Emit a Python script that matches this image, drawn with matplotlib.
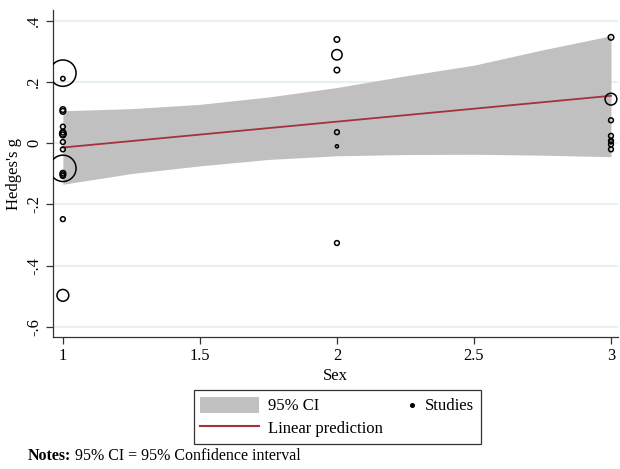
import matplotlib

matplotlib.use("Agg")
import matplotlib.pyplot as plt
from matplotlib.lines import Line2D
from matplotlib.patches import Patch
from matplotlib.text import Annotation
from matplotlib.legend_handler import HandlerBase

plt.rcParams["font.family"] = ["Liberation Serif", "DejaVu Serif"]

# studies: sex group, Hedges's g, relative weight
sex = [1] * 16 + [2] * 6 + [3] * 8
hedges_g = [
    0.229, 0.211, 0.110, 0.104, 0.054, 0.036, 0.031, 0.027,
    0.004, -0.020, -0.082, -0.098, -0.103, -0.107, -0.248, -0.497,
    0.339, 0.289, 0.239, 0.036, -0.010, -0.326,
    0.346, 0.144, 0.075, 0.024, 0.008, -0.004, -0.020, 0.005,
]
weight = [
    18.0, 0.5, 0.8, 0.8, 0.6, 0.8, 1.1, 0.8,
    0.6, 0.6, 18.0, 0.8, 0.8, 0.6, 0.6, 3.6,
    0.8, 2.8, 0.8, 0.6, 0.25, 0.6,
    0.8, 3.6, 0.6, 0.6, 0.6, 0.6, 0.6, 0.5,
]

# linear prediction and 95% CI band
fit_x = [1, 3]
fit_y = [-0.014, 0.155]
ci_x = [1.0, 1.25, 1.5, 1.75, 2.0, 2.25, 2.5, 2.75, 3.0]
ci_upper = [0.106, 0.113, 0.127, 0.151, 0.182, 0.220, 0.255, 0.305, 0.351]
ci_lower = [-0.134, -0.099, -0.074, -0.053, -0.041, -0.037, -0.036, -0.039, -0.044]

BAND = "#c0c0c0"
LINE = "#a3323a"


class DotAtRight(HandlerBase):
    # Stata draws the studies key as a small dot right before the label
    def create_artists(self, legend, orig_handle, xdescent, ydescent,
                       width, height, fontsize, trans):
        dot = Line2D([width - xdescent - 3], [height / 2 - ydescent],
                     marker="o", color="black", lw=0, markersize=2.6)
        dot.set_transform(trans)
        return [dot]


fig = plt.figure(figsize=(6.2, 4.69), dpi=100)
ax = fig.add_axes([0.0855, 0.2815, 0.911, 0.697])

yticks = [-0.6, -0.4, -0.2, 0, 0.2, 0.4]
ytick_labels = ["-.6", "-.4", "-.2", "0", ".2", ".4"]
xticks = [1, 1.5, 2, 2.5, 3]
xtick_labels = ["1", "1.5", "2", "2.5", "3"]

for yt in yticks:
    ax.axhline(yt, color="#e9f0f3", lw=1.6, zorder=0)

ax.fill_between(ci_x, ci_lower, ci_upper, color=BAND, lw=0, zorder=1)
ax.plot(fit_x, fit_y, color=LINE, lw=1.3, zorder=2)
ax.scatter(sex, hedges_g, s=[w * 20 for w in weight], facecolors="none",
           edgecolors="black", linewidths=1.1, zorder=3)

ax.set_xlim(0.964, 3.025)
ax.set_ylim(-0.633, 0.435)
ax.set_xticks(xticks)
ax.set_xticklabels(xtick_labels)
ax.set_yticks(yticks)
ax.set_yticklabels(ytick_labels, rotation=90, va="center")
ax.tick_params(axis="both", labelsize=11.8, length=5, width=0.9, color="#333333", pad=3)

for side in ["top", "right"]:
    ax.spines[side].set_visible(False)
for side in ["left", "bottom"]:
    ax.spines[side].set_color("#333333")
    ax.spines[side].set_linewidth(0.9)

ax.set_xlabel("Sex", fontsize=12, labelpad=3)
ax.set_ylabel("Hedges's g", fontsize=12, labelpad=3)

studies_key = object()
handles = [
    Patch(facecolor=BAND, edgecolor="none"),
    Line2D([0], [0], color=LINE, lw=1.5),
    studies_key,
]
labels = ["95% CI", "Linear prediction", "Studies"]
leg = fig.legend(handles, labels, ncol=2, loc="center",
                 bbox_to_anchor=(0.544, 0.111), fontsize=12,
                 frameon=True, fancybox=False, edgecolor="black",
                 handlelength=3.5, handleheight=1.1, handletextpad=0.55,
                 columnspacing=-1.5, borderpad=0.4, labelspacing=0.3,
                 handler_map={studies_key: DotAtRight()})
leg.get_frame().set_linewidth(0.9)

notes = fig.text(0.045, 0.01, "Notes:", fontsize=11.5, fontweight="bold",
                 ha="left", va="bottom")
fig.add_artist(Annotation(" 95% CI = 95% Confidence interval", xy=(1, 0),
                          xycoords=notes, fontsize=11.5, ha="left", va="bottom"))

fig.savefig("out.png", dpi=100)
